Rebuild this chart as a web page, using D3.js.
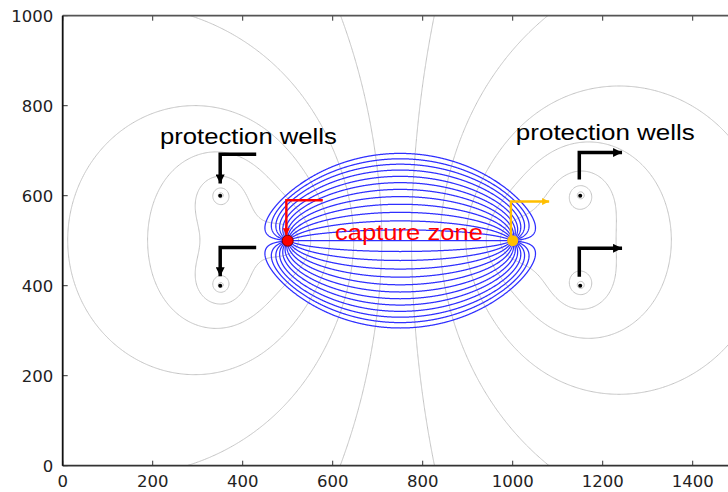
<!DOCTYPE html>
<html><head><meta charset="utf-8">
<script src="https://cdn.jsdelivr.net/npm/d3@7"></script>
<style>body{margin:0;background:#fff}svg{display:block}</style>
</head><body><svg id="c" width="728" height="492"></svg>
<script>
// ---------- data ----------
const xTicks = [0, 200, 400, 600, 800, 1000, 1200, 1400];
const yTicks = [0, 200, 400, 600, 800, 1000];
// wells: injection (red), extraction (orange), four protection wells
const wellX = [500, 1000, 350, 350, 1150, 1150];
const wellY = [500, 500, 600, 400, 600, 400];
const wellQ = [1, -1, 1, 1, -1, -1];
// head contour levels (gray lines)
const headLevels = [-9.977, -8.822, -7.667, -6.512, -5.357, -4.202, -3.047, -1.892, -0.737,
  0.418, 1.573, 2.728, 3.883, 5.038, 6.193, 7.348, 8.503, 9.658];
// capture-zone streamlines: where each one crosses the mid-line x = 750
const streamSeedX = 750;
const streamSeedY = [306, 318, 330, 343, 357, 371, 386, 402, 419, 437, 456, 476, 500,
  524, 544, 563, 581, 598, 614, 629, 643, 657, 670, 682, 694];
// annotation labels
const labelText = ["protection wells", "protection wells", "capture zone"];
const labelX = [216, 1007, 605];
const labelY = [714, 724, 501];
const labelLen = [177, 179, 148];
const labelColor = ["#000", "#000", "#ff0000"];
// annotation arrows (polyline vertices in data units)
const arrowPaths = [
  [[430, 692], [350, 692], [350, 627]],
  [[430, 485], [350, 485], [350, 421]],
  [[578, 590], [497, 590], [497, 512]],
  [[996, 506], [996, 587], [1081, 587]],
  [[1148, 636], [1148, 696], [1243, 696]],
  [[1148, 420], [1148, 483], [1243, 483]]
];
const arrowColor = ["#000", "#000", "#ff0000", "#ffbf00", "#000", "#000"];
const arrowWidth = [3.5, 3.5, 2.4, 2.4, 3.5, 3.5];

// ---------- setup ----------
const svg = d3.select("#c");
const xs = d3.scaleLinear([0, 1500], [62.7, 737.7]);
const ys = d3.scaleLinear([0, 1000], [465.7, 15.7]);

svg.append("defs").append("clipPath").attr("id", "clip")
  .append("rect").attr("x", xs(0)).attr("y", ys(1000))
  .attr("width", xs(1500) - xs(0)).attr("height", ys(0) - ys(1000));

const plot = svg.append("g").attr("clip-path", "url(#clip)");

// ---------- head field ----------
function head(x, y) {
  let h = 0;
  for (let i = 0; i < wellX.length; i++) {
    const dx = x - wellX[i], dy = y - wellY[i];
    h += wellQ[i] * 0.5 * Math.log(dx * dx + dy * dy + 1e-6);
  }
  return h;
}
const gx0 = -50, gy0 = -50, step = 2.5;
const nx = Math.round(1600 / step) + 1, ny = Math.round(1100 / step) + 1;
const values = new Float64Array(nx * ny);
for (let j = 0; j < ny; j++) for (let i = 0; i < nx; i++)
  values[j * nx + i] = head(gx0 + i * step, gy0 + j * step);

const contours = d3.contours().size([nx, ny]).thresholds(headLevels)(values);
const proj = d3.geoTransform({
  point: function (gx, gy) { this.stream.point(xs(gx0 + gx * step), ys(gy0 + gy * step)); }
});
const gpath = d3.geoPath(proj);
plot.append("g").selectAll("path").data(contours).join("path")
  .attr("d", gpath).attr("fill", "none").attr("stroke", "#c4c4c4").attr("stroke-width", 1);

// ---------- streamlines ----------
function dir(x, y, s) {
  let vx = 0, vy = 0;
  for (let i = 0; i < wellX.length; i++) {
    const dx = x - wellX[i], dy = y - wellY[i];
    const r2 = dx * dx + dy * dy + 1e-9;
    vx += wellQ[i] * dx / r2; vy += wellQ[i] * dy / r2;
  }
  const m = Math.hypot(vx, vy) || 1;
  return [s * vx / m, s * vy / m];
}
function half(x, y, s, target) {
  const pts = [];
  const h = 1.0;
  for (let k = 0; k < 12000; k++) {
    const k1 = dir(x, y, s);
    const k2 = dir(x + h / 2 * k1[0], y + h / 2 * k1[1], s);
    const k3 = dir(x + h / 2 * k2[0], y + h / 2 * k2[1], s);
    const k4 = dir(x + h * k3[0], y + h * k3[1], s);
    x += h / 6 * (k1[0] + 2 * k2[0] + 2 * k3[0] + k4[0]);
    y += h / 6 * (k1[1] + 2 * k2[1] + 2 * k3[1] + k4[1]);
    pts.push([x, y]);
    if (Math.hypot(x - wellX[target], y - wellY[target]) < 2.5) { pts.push([wellX[target], wellY[target]]); break; }
    if (x < -100 || x > 1600 || y < -100 || y > 1100) break;
  }
  return pts;
}
function trace(y0) {
  const back = half(streamSeedX, y0, -1, 0).reverse();
  const fwd = half(streamSeedX, y0, 1, 1);
  return back.concat([[streamSeedX, y0]], fwd);
}
const line = d3.line().x(d => xs(d[0])).y(d => ys(d[1]));
plot.append("g").selectAll("path").data(streamSeedY.map(trace)).join("path")
  .attr("d", line).attr("fill", "none").attr("stroke", "#2f2fff").attr("stroke-width", 1.25);

// ---------- wells ----------
const wellFill = ["#ff0000", "#ffbf00", "#000", "#000", "#000", "#000"];
const wellR = [5.5, 5.5, 2, 2, 2, 2];
const wellStroke = ["#700", "none", "none", "none", "none", "none"];
plot.append("g").selectAll("circle").data(wellX).join("circle")
  .attr("cx", (d, i) => xs(d)).attr("cy", (d, i) => ys(wellY[i]))
  .attr("r", (d, i) => wellR[i]).attr("fill", (d, i) => wellFill[i])
  .attr("stroke", (d, i) => wellStroke[i]).attr("stroke-width", 1);

// ---------- axes ----------
const ax = svg.append("g").attr("font-family", "DejaVu Sans").attr("font-size", 16.5).attr("fill", "#222");
ax.selectAll(".xt").data(xTicks).join("line").attr("class", "xt")
  .attr("x1", d => xs(d)).attr("x2", d => xs(d)).attr("y1", ys(0)).attr("y2", ys(0) - 5)
  .attr("stroke", "#333").attr("stroke-width", 1);
ax.selectAll(".xtt").data(xTicks).join("line").attr("class", "xtt")
  .attr("x1", d => xs(d)).attr("x2", d => xs(d)).attr("y1", ys(1000)).attr("y2", ys(1000) + 5)
  .attr("stroke", "#333").attr("stroke-width", 1);
ax.selectAll(".yt").data(yTicks).join("line").attr("class", "yt")
  .attr("x1", xs(0)).attr("x2", xs(0) + 5).attr("y1", d => ys(d)).attr("y2", d => ys(d))
  .attr("stroke", "#333").attr("stroke-width", 1);
ax.selectAll(".xl").data(xTicks).join("text").attr("class", "xl")
  .attr("x", d => xs(d)).attr("y", ys(0) + 21.5).attr("text-anchor", "middle").text(d => d);
ax.selectAll(".yl").data(yTicks).join("text").attr("class", "yl")
  .attr("x", xs(0) - 9.5).attr("y", d => ys(d) + 6).attr("text-anchor", "end").text(d => d);
// spines
ax.append("line").attr("x1", xs(0)).attr("x2", xs(1500)).attr("y1", ys(0)).attr("y2", ys(0)).attr("stroke", "#333").attr("stroke-width", 1.8);
ax.append("line").attr("x1", xs(0)).attr("x2", xs(1500)).attr("y1", ys(1000)).attr("y2", ys(1000)).attr("stroke", "#555").attr("stroke-width", 1.8);
ax.append("line").attr("x1", xs(0)).attr("x2", xs(0)).attr("y1", ys(0)).attr("y2", ys(1000)).attr("stroke", "#111").attr("stroke-width", 1.8);

// ---------- annotations ----------
const defs = svg.select("defs");
arrowColor.forEach((c, i) => {
  const big = arrowWidth[i] > 3;
  defs.append("marker").attr("id", "ah" + i)
    .attr("viewBox", "0 0 10 10").attr("refX", 10).attr("refY", 5)
    .attr("markerUnits", "userSpaceOnUse")
    .attr("markerWidth", big ? 11 : 9).attr("markerHeight", big ? 9 : 7)
    .attr("orient", "auto")
    .append("path").attr("d", "M0,0 L10,5 L0,10 Z").attr("fill", c);
});
const aline = d3.line().x(d => xs(d[0])).y(d => ys(d[1]));
svg.append("g").selectAll("path").data(arrowPaths).join("path")
  .attr("d", aline).attr("fill", "none")
  .attr("stroke", (d, i) => arrowColor[i]).attr("stroke-width", (d, i) => arrowWidth[i])
  .attr("stroke-linejoin", "miter")
  .attr("marker-end", (d, i) => "url(#ah" + i + ")");

svg.append("g").selectAll("text").data(labelText).join("text")
  .attr("x", (d, i) => xs(labelX[i])).attr("y", (d, i) => ys(labelY[i]))
  .attr("font-family", "Liberation Sans, Arial, sans-serif").attr("font-size", 22)
  .attr("textLength", (d, i) => labelLen[i]).attr("lengthAdjust", "spacingAndGlyphs")
  .attr("fill", (d, i) => labelColor[i]).text(d => d);
</script>
</body></html>
